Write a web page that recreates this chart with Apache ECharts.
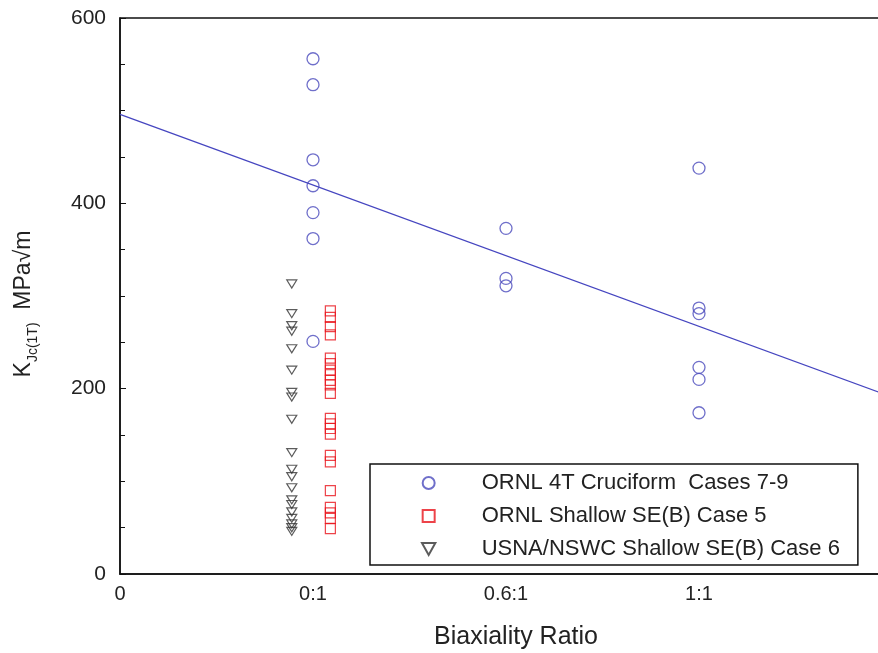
<!DOCTYPE html>
<html>
<head>
<meta charset="utf-8">
<script src="https://cdn.jsdelivr.net/npm/echarts@6/dist/echarts.min.js"></script>
<style>
html,body{margin:0;padding:0;background:#fff;}
#chart{width:878px;height:653px;}
</style>
</head>
<body>
<div id="chart"></div>
<script>
// ---- data ----
const seriesNames = ['ORNL 4T Cruciform  Cases 7-9', 'ORNL Shallow SE(B) Case 5', 'USNA/NSWC Shallow SE(B) Case 6'];
const xTickLabels = ['0', '0:1', '0.6:1', '1:1', ''];
const cruciformX = [1, 1, 1, 1, 1, 1, 1, 2, 2, 2, 3, 3, 3, 3, 3, 3];
const cruciformY = [556, 528, 447, 419, 390, 362, 251, 373, 319, 311, 438, 287, 281, 223, 210, 174];
const shallowX = 1.09;
const shallowY = [284, 277, 267, 258, 233, 227, 220, 215, 209, 204, 195, 168, 162, 157, 151, 128, 121, 90, 72, 66, 60, 49];
const usnaX = 0.89;
const usnaY = [313, 281, 268, 262, 243, 220, 196, 191, 167, 131, 113, 105, 93, 80, 75, 67, 60, 54, 50, 46];
const trendX = [0, 4];
const trendY = [496, 191];

const chart = echarts.init(document.getElementById('chart'), null, {renderer: 'canvas'});
const font = 'Liberation Sans, Arial, Helvetica, sans-serif';

const option = {
  backgroundColor: '#fff',
  animation: false,
  textStyle: {fontFamily: font},
  grid: {left: 120, top: 18, right: -14, bottom: 79, show: true, borderColor: '#111', borderWidth: 1.5,
         containLabel: false, outerBoundsMode: 'none'},
  xAxis: {
    type: 'value', min: 0, max: 4, interval: 1,
    axisLine: {show: true, lineStyle: {color: '#111', width: 1.5}},
    axisTick: {show: false},
    splitLine: {show: false},
    axisLabel: {formatter: v => xTickLabels[v] || '', fontSize: 20, color: '#222', margin: 10, fontFamily: font},
    name: 'Biaxiality Ratio', nameLocation: 'middle', nameGap: 51,
    nameTextStyle: {fontSize: 25, color: '#222', fontFamily: font, padding: [0, 0, 0, 20]}
  },
  yAxis: {
    type: 'value', min: 0, max: 600, interval: 200,
    axisLine: {show: true, lineStyle: {color: '#111', width: 1.5}},
    axisTick: {show: true, inside: true, length: 6, lineStyle: {color: '#111'}},
    minorTick: {show: true, splitNumber: 4, length: 5, lineStyle: {color: '#111'}},
    splitLine: {show: false},
    axisLabel: {fontSize: 21, color: '#222', margin: 14, fontFamily: font},
    name: '{k|K}{s|Jc(1T)}{k|  MPa√m}', nameLocation: 'middle', nameGap: 80, nameRotate: 90,
    nameTextStyle: {
      color: '#222', fontFamily: font, padding: [0, 16, 0, 0],
      rich: {
        k: {fontSize: 23, color: '#222', fontFamily: font, verticalAlign: 'top'},
        s: {fontSize: 14, color: '#222', fontFamily: font, verticalAlign: 'top', padding: [14, 0, 0, 0]}
      }
    }
  },
  legend: {
    orient: 'vertical', left: 370, top: 464,
    data: seriesNames,
    backgroundColor: '#fff', borderColor: '#111', borderWidth: 1.5,
    padding: [8, 18, 5, 51],
    itemWidth: 96, itemHeight: 12, itemGap: 11, symbolKeepAspect: true,
    textStyle: {fontSize: 22, color: '#222', fontFamily: font}
  },
  series: [
    {
      type: 'line', name: 'trend', data: trendX.map((x, i) => [x, trendY[i]]),
      showSymbol: false, symbol: 'none', lineStyle: {color: '#4646c0', width: 1.3}, z: 1, silent: true
    },
    {
      type: 'scatter', name: seriesNames[0], data: cruciformX.map((x, i) => [x, cruciformY[i]]),
      symbol: 'circle', symbolSize: 12, symbolKeepAspect: true,
      itemStyle: {color: 'rgba(255,255,255,0)', borderColor: '#4b4bbd', borderWidth: 1.3}, z: 3
    },
    {
      type: 'scatter', name: seriesNames[1], data: shallowY.map(y => [shallowX, y]),
      symbol: 'path://M0,0L10,0L10,10L0,10Z', symbolSize: 10, symbolKeepAspect: true,
      itemStyle: {color: 'rgba(255,255,255,0)', borderColor: '#e8141c', borderWidth: 1.2}, z: 3
    },
    {
      type: 'scatter', name: seriesNames[2], data: usnaY.map(y => [usnaX, y]),
      symbol: 'path://M0,0L10,0L5,9Z', symbolSize: [10, 9], symbolKeepAspect: true,
      itemStyle: {color: 'rgba(255,255,255,0)', borderColor: '#333', borderWidth: 1.2}, z: 3
    }
  ]
};
chart.setOption(option);
</script>
</body>
</html>
